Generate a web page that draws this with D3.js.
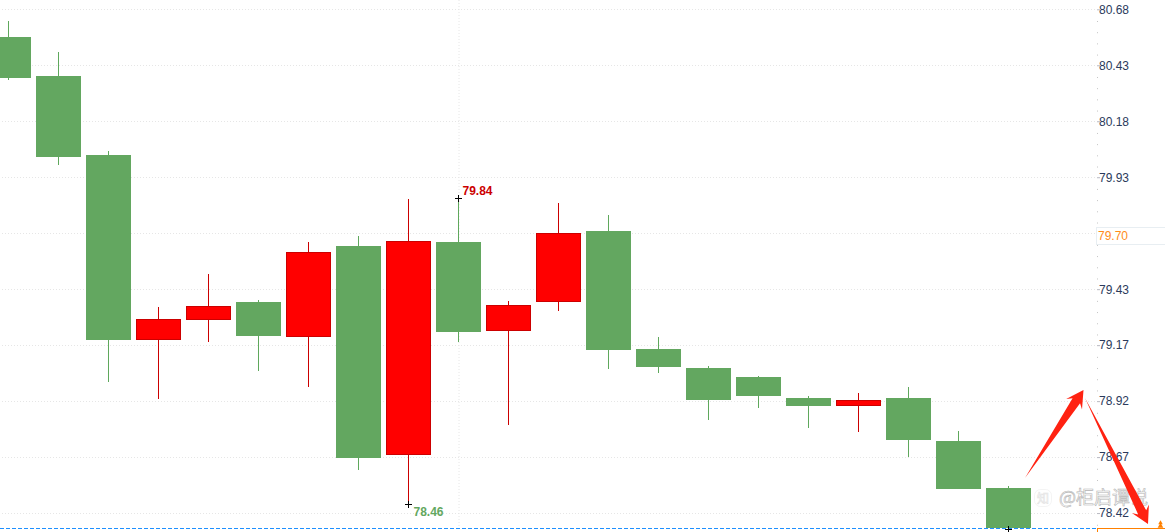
<!DOCTYPE html>
<html>
<head>
<meta charset="utf-8">
<script src="https://cdn.jsdelivr.net/npm/d3@7/dist/d3.min.js"></script>
<style>
    html, body { margin: 0; padding: 0; background: #fff; overflow: hidden; }
    text { font-family: "Liberation Sans", Arial, sans-serif; font-size: 12px; }
</style>
</head>
<body>
<svg id="chart" width="1165" height="532"></svg>
<script>
// candles, left to right
const opens  = [80.556, 80.381, 80.027, 79.197, 79.287, 79.367, 79.210, 79.619, 78.681, 79.637, 79.237, 79.367, 79.686, 79.157, 79.071, 79.031, 78.937, 78.901, 78.937, 78.744, 78.533];
const closes = [80.372, 80.018, 79.197, 79.291, 79.350, 79.215, 79.592, 78.668, 79.641, 79.233, 79.354, 79.677, 79.152, 79.076, 78.928, 78.946, 78.901, 78.928, 78.749, 78.529, 78.354];
const highs  = [80.628, 80.489, 80.045, 79.345, 79.493, 79.376, 79.637, 79.663, 79.829, 79.834, 79.372, 79.811, 79.758, 79.210, 79.080, 79.036, 78.946, 78.959, 78.986, 78.789, 78.542];
const lows   = [80.363, 79.982, 79.009, 78.932, 79.188, 79.058, 78.986, 78.614, 78.462, 79.188, 78.816, 79.327, 79.067, 79.049, 78.838, 78.892, 78.802, 78.785, 78.672, 78.529, 78.350];

// axis
const gridValues = [80.680, 80.429, 80.178, 79.927, 79.676, 79.425, 79.174, 78.923, 78.672, 78.421];
const tickLabels = ["80.68", "80.43", "80.18", "79.93", "", "79.43", "79.17", "78.92", "78.67", "78.42"];

// price callouts and the crosses on the extremes
const lastPrice = 79.70;
const floorPrice = 78.354;
const callouts = [
    { index: 9, price: 79.834, label: "79.84", color: "#cc0000" },
    { index: 8, price: 78.462, label: "78.46", color: "#63a760" }
];
const crosses = [
    { index: 9, price: 79.834 },
    { index: 8, price: 78.462 },
    { index: 20, price: 78.350 }
];

// hand drawn arrows, [index, price]
const arrows = [
    { from: [20.33, 78.578], to: [21.50, 78.973] },
    { from: [21.53, 78.937], to: [22.79, 78.372] }
];

const width = 1165;
const height = 532;
const axisX = 1097;
const bodyWidth = 45;
const up = "#ff0000", upLine = "#cc0000", down = "#63a760", downLine = "#5fa85c";

const candles = opens.map((o, i) => ({ i, open: o, close: closes[i], high: highs[i], low: lows[i] }));

const svg = d3.select("#chart");

const x = d3.scaleLinear().domain([0, 20]).range([8.5, 1008.5]);
const y = d3.scaleLinear().domain([78.42, 80.68]).range([513.3, 9.3]);
const py = v => Math.round(y(v));

// grid
svg.append("g").selectAll("line")
    .data(gridValues)
    .join("line")
    .attr("x1", 2)
    .attr("x2", axisX)
    .attr("y1", d => py(d) + 0.5)
    .attr("y2", d => py(d) + 0.5)
    .attr("stroke", "#e6e6e6")
    .attr("stroke-dasharray", "1 2");

svg.append("line")
    .attr("x1", x(9) + 0.5)
    .attr("x2", x(9) + 0.5)
    .attr("y1", 0)
    .attr("y2", py(floorPrice))
    .attr("stroke", "#e6e6e6")
    .attr("stroke-dasharray", "1 2");

// last price line along the bottom
svg.append("line")
    .attr("x1", 0)
    .attr("x2", axisX)
    .attr("y1", py(floorPrice) + 0.5)
    .attr("y2", py(floorPrice) + 0.5)
    .attr("stroke", "#1e90ff")
    .attr("stroke-dasharray", "4 2");

// right axis: four small ticks between the labelled ones
const step = gridValues[0] - gridValues[1];
const minorValues = d3.range(0, 10).flatMap(i => d3.range(1, 5).map(k => gridValues[0] - (i + k / 5) * step));

const minorAxis = svg.append("g")
    .attr("transform", `translate(${axisX},0.5)`)
    .call(d3.axisRight(y).tickValues(minorValues).tickSize(1).tickFormat(""));
minorAxis.select(".domain").remove();
minorAxis.selectAll(".tick line").attr("stroke", "#c4c4c4");

const yAxis = svg.append("g")
    .attr("transform", `translate(${axisX},0)`)
    .call(d3.axisRight(y)
        .tickValues(gridValues)
        .tickSize(3)
        .tickPadding(-1)
        .tickFormat((d, i) => tickLabels[i]));
yAxis.select(".domain").remove();
yAxis.selectAll(".tick line").attr("stroke", "#b8b8c0");
yAxis.selectAll(".tick text")
    .attr("fill", "#2b3a5c")
    .style("font-size", "12px")
    .style("font-family", '"Liberation Sans", Arial, sans-serif');

// current price box
svg.append("rect")
    .attr("x", axisX - 0.5)
    .attr("y", 227.5)
    .attr("width", 70)
    .attr("height", 17)
    .attr("fill", "#fff")
    .attr("stroke", "#e8eef2");

svg.append("text")
    .attr("x", axisX + 1)
    .attr("y", 240)
    .attr("fill", "#ff8c1a")
    .text(lastPrice.toFixed(2));

// orange box at the bottom with the "off scale" marker
svg.append("rect")
    .attr("x", axisX + 0.5)
    .attr("y", py(floorPrice) + 0.5)
    .attr("width", 70)
    .attr("height", 10)
    .attr("fill", "#fff")
    .attr("stroke", "#ff8000");

svg.append("path")
    .attr("d", d3.symbol(d3.symbolTriangle, 9))
    .attr("transform", `translate(1160.5,${py(floorPrice) - 5})`)
    .attr("fill", "#ff8000");

svg.append("path")
    .attr("d", d3.symbol(d3.symbolTriangle, 14))
    .attr("transform", `translate(1160.5,${py(floorPrice) - 2})`)
    .attr("fill", "#ff8000");

// candles
const candle = svg.append("g").selectAll("g")
    .data(candles)
    .join("g");

candle.append("line")
    .attr("x1", d => x(d.i))
    .attr("x2", d => x(d.i))
    .attr("y1", d => py(d.high))
    .attr("y2", d => py(d.low))
    .attr("stroke", d => d.close > d.open ? upLine : downLine);

candle.append("rect")
    .attr("x", d => x(d.i) - bodyWidth / 2 + 0.5)
    .attr("width", bodyWidth - 1)
    .attr("y", d => py(Math.max(d.open, d.close)) + 0.5)
    .attr("height", d => py(Math.min(d.open, d.close)) - py(Math.max(d.open, d.close)) - 1)
    .attr("fill", d => d.close > d.open ? up : down)
    .attr("stroke", d => d.close > d.open ? upLine : down);

// crosses
svg.append("g").selectAll("path")
    .data(crosses)
    .join("path")
    .attr("d", d => `M${x(d.index) - 3.5},${py(d.price) + 0.5}h7M${x(d.index)},${py(d.price) - 3}v7`)
    .attr("stroke", "#000")
    .attr("fill", "none");

// high and low labels
svg.append("g").selectAll("text")
    .data(callouts)
    .join("text")
    .attr("x", d => x(d.index) + (d.price > 79 ? 4 : 5))
    .attr("y", d => py(d.price) + (d.price > 79 ? -3 : 12))
    .attr("fill", d => d.color)
    .attr("font-weight", "bold")
    .text(d => d.label);

// watermark
const mark = svg.append("g").attr("fill", "#fff").attr("stroke", "#b4b4b4").attr("stroke-width", 0.6);

mark.append("rect")
    .attr("x", 1034.5)
    .attr("y", 489.5)
    .attr("width", 17)
    .attr("height", 17)
    .attr("rx", 6)
    .attr("stroke", "#ececec");

mark.append("text")
    .attr("x", 1037)
    .attr("y", 503)
    .attr("stroke", "#e4e4e4")
    .style("font-size", "12px")
    .style("font-family", '"Noto Sans CJK SC"')
    .text("知");

mark.append("text")
    .attr("x", 1059)
    .attr("y", 504)
    .style("font-size", "18px")
    .style("font-family", '"Noto Sans CJK SC"')
    .text("@柜启谭说");

// red arrows
function arrowPath(a) {
    const x0 = x(a.from[0]), y0 = y(a.from[1]);
    const x1 = x(a.to[0]), y1 = y(a.to[1]);
    const len = Math.hypot(x1 - x0, y1 - y0);
    const ux = (x1 - x0) / len, uy = (y1 - y0) / len;
    const at = (back, side) => [x1 - ux * back - uy * side, y1 - uy * back + ux * side];
    return d3.line()([[x0, y0], at(13, 4.5), at(17, 9.5), [x1, y1], at(17, -9.5), at(13, -4.5)]) + "Z";
}

svg.append("g").selectAll("path")
    .data(arrows)
    .join("path")
    .attr("d", arrowPath)
    .attr("fill", "#ff2211");
</script>
</body>
</html>
